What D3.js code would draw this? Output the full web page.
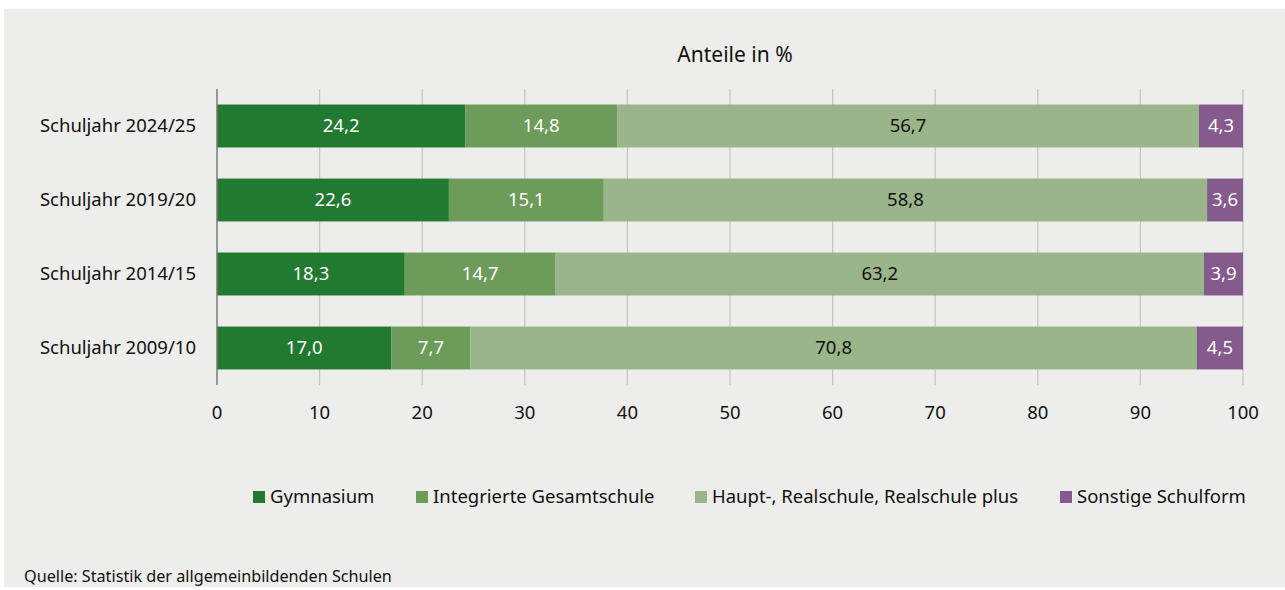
<!DOCTYPE html>
<html><head><meta charset="utf-8">
<script src="https://cdn.jsdelivr.net/npm/d3@7"></script>
<style>
body{margin:0;background:#fff;}
svg{display:block;font-family:"Noto Sans",sans-serif;}
</style></head><body>
<svg id="c" width="1285" height="590"></svg>
<script>
const categories = ["Schuljahr 2024/25","Schuljahr 2019/20","Schuljahr 2014/15","Schuljahr 2009/10"];
const seriesNames = ["Gymnasium","Integrierte Gesamtschule","Haupt-, Realschule, Realschule plus","Sonstige Schulform"];
const gymnasium = [24.2,22.6,18.3,17.0];
const igs = [14.8,15.1,14.7,7.7];
const haupt = [56.7,58.8,63.2,70.8];
const sonstige = [4.3,3.6,3.9,4.5];
const xTicks = [0,10,20,30,40,50,60,70,80,90,100];
const colors = ["#217a2f","#6d9b5a","#9ab589","#845b8c"];
const textColors = ["#fff","#fff","#111","#fff"];

const svg = d3.select("#c");
svg.append("rect").attr("x",4).attr("y",9).attr("width",1281).attr("height",578).attr("fill","#ededeb");

const x = d3.scaleLinear().domain([0,100]).range([217,1243]);
const y = d3.scaleBand().domain(categories).range([89,385]).paddingInner(0.42).paddingOuter(0.21);

// grid
svg.append("g").selectAll("line").data(xTicks.slice(1)).join("line")
  .attr("x1",d=>x(d)).attr("x2",d=>x(d)).attr("y1",89).attr("y2",385)
  .attr("stroke","#c4c4c4").attr("stroke-width",1.2);

const rows = categories.map((c,i)=>({cat:c, vals:[gymnasium[i],igs[i],haupt[i],sonstige[i]]}));
const segs = [];
rows.forEach(r=>{let acc=0; r.vals.forEach((v,k)=>{segs.push({cat:r.cat,k,x0:acc,x1:Math.min(100,acc+v),v}); acc+=v;});});

svg.append("g").selectAll("rect").data(segs).join("rect")
  .attr("x",d=>x(d.x0)).attr("width",d=>x(d.x1)-x(d.x0))
  .attr("y",d=>y(d.cat)).attr("height",y.bandwidth())
  .attr("fill",d=>colors[d.k]);

svg.append("g").selectAll("text").data(segs).join("text")
  .attr("x",d=>(x(d.x0)+x(d.x1))/2).attr("y",d=>y(d.cat)+y.bandwidth()/2)
  .attr("dy","0.35em").attr("text-anchor","middle")
  .attr("font-size",18.5).attr("fill",d=>textColors[d.k])
  .text(d=>d3.format(".1f")(d.v).replace(".",","));

// left axis line
svg.append("line").attr("x1",x(0)).attr("x2",x(0)).attr("y1",89).attr("y2",385).attr("stroke","#777").attr("stroke-width",1.5);

// category labels
svg.append("g").selectAll("text").data(categories).join("text")
  .attr("x",196).attr("y",d=>y(d)+y.bandwidth()/2).attr("dy","0.35em")
  .attr("text-anchor","end").attr("font-size",18.5).attr("fill","#111").text(d=>d);

// x tick labels
svg.append("g").selectAll("text").data(xTicks).join("text")
  .attr("x",d=>x(d)).attr("y",413).attr("dy","0.35em").attr("text-anchor","middle")
  .attr("font-size",18.5).attr("fill","#111").text(d=>d);

// title
svg.append("text").attr("x",735).attr("y",55).attr("dy","0.35em").attr("text-anchor","middle")
  .attr("font-size",21).attr("fill","#111").text("Anteile in %");

// legend
const legX = [253,416,695,1060];
const lg = svg.append("g").selectAll("g").data(seriesNames).join("g")
  .attr("transform",(d,i)=>`translate(${legX[i]},497)`);
lg.append("rect").attr("x",0).attr("y",-6).attr("width",12).attr("height",12).attr("fill",(d,i)=>colors[i]);
lg.append("text").attr("x",17).attr("y",0).attr("dy","0.35em").attr("font-size",18.5).attr("fill","#111").text(d=>d);

svg.append("text").attr("x",24).attr("y",576).attr("dy","0.35em").attr("font-size",16.2).attr("fill","#111")
  .text("Quelle: Statistik der allgemeinbildenden Schulen");
</script>
</body></html>
